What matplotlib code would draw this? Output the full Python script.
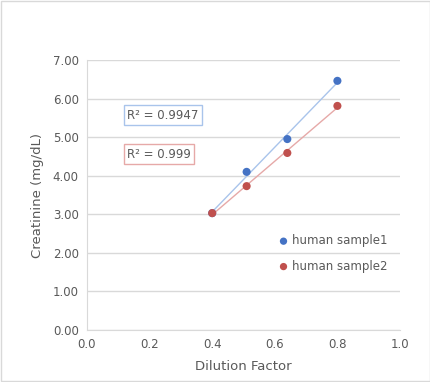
import numpy as np
import matplotlib
matplotlib.use("Agg")
import matplotlib.pyplot as plt
from matplotlib.patches import Rectangle

dilution = [0.40, 0.51, 0.64, 0.80]
sample1 = [3.03, 4.10, 4.95, 6.46]
sample2 = [3.03, 3.73, 4.59, 5.81]
labels = ["human sample1", "human sample2"]
r2_labels = ["R² = 0.9947", "R² = 0.999"]

W, H = 431, 382
fig = plt.figure(figsize=(W/100, H/100), dpi=100)
fig.patches.append(Rectangle((0.002, 0.003), 0.995, 0.994, transform=fig.transFigure,
                             fill=False, edgecolor="#d9d9d9", linewidth=1.0))
ax = fig.add_axes([87/W, 1-330/H, 313/W, 270/H])
txt = "#595959"
c1, c2 = "#4472c4", "#c0504d"
lc1, lc2 = "#a9c4eb", "#e6a9a8"

for y, c, lc, lab in [(sample1, c1, lc1, labels[0]), (sample2, c2, lc2, labels[1])]:
    p = np.polyfit(dilution, y, 1)
    xs = np.array([dilution[0], dilution[-1]])
    ax.plot(xs, np.polyval(p, xs), color=lc, lw=1.0, zorder=2)
    ax.scatter(dilution, y, s=34, color=c, zorder=3, label=lab, edgecolors="none")

ax.set_xlim(0, 1.0)
ax.set_ylim(0, 7.0)
ax.set_xticks(np.arange(0, 1.01, 0.2))
ax.set_yticks(np.arange(0, 7.01, 1.0))
ax.set_xticklabels([f"{v:.1f}" for v in np.arange(0, 1.01, 0.2)])
ax.set_yticklabels([f"{v:.2f}" for v in np.arange(0, 7.01, 1.0)])
ax.grid(axis="y", color="#d9d9d9", lw=1.0)
ax.set_axisbelow(True)
for s in ["top", "right"]:
    ax.spines[s].set_visible(False)
for s in ["left", "bottom"]:
    ax.spines[s].set_color("#d9d9d9")
ax.tick_params(length=0, colors=txt, labelsize=8.5, pad=6)
ax.set_xlabel("Dilution Factor", color=txt, fontsize=9.5, labelpad=6)
ax.set_ylabel("Creatinine (mg/dL)", color=txt, fontsize=9.5, labelpad=6)

ax.text(0.128, 5.57, r2_labels[0], color=txt, fontsize=8.5, va="center", ha="left",
        bbox=dict(boxstyle="square,pad=0.3", fc="white", ec=lc1, lw=1.0))
ax.text(0.128, 4.56, r2_labels[1], color=txt, fontsize=8.5, va="center", ha="left",
        bbox=dict(boxstyle="square,pad=0.3", fc="white", ec=lc2, lw=1.0))

leg = ax.legend(loc="upper left", bbox_to_anchor=(0.575, 0.372), frameon=False, fontsize=8.5,
                handletextpad=-0.3, labelspacing=1.05, markerscale=0.9, borderaxespad=0)
for t in leg.get_texts():
    t.set_color(txt)

fig.savefig("out.png", dpi=100)
